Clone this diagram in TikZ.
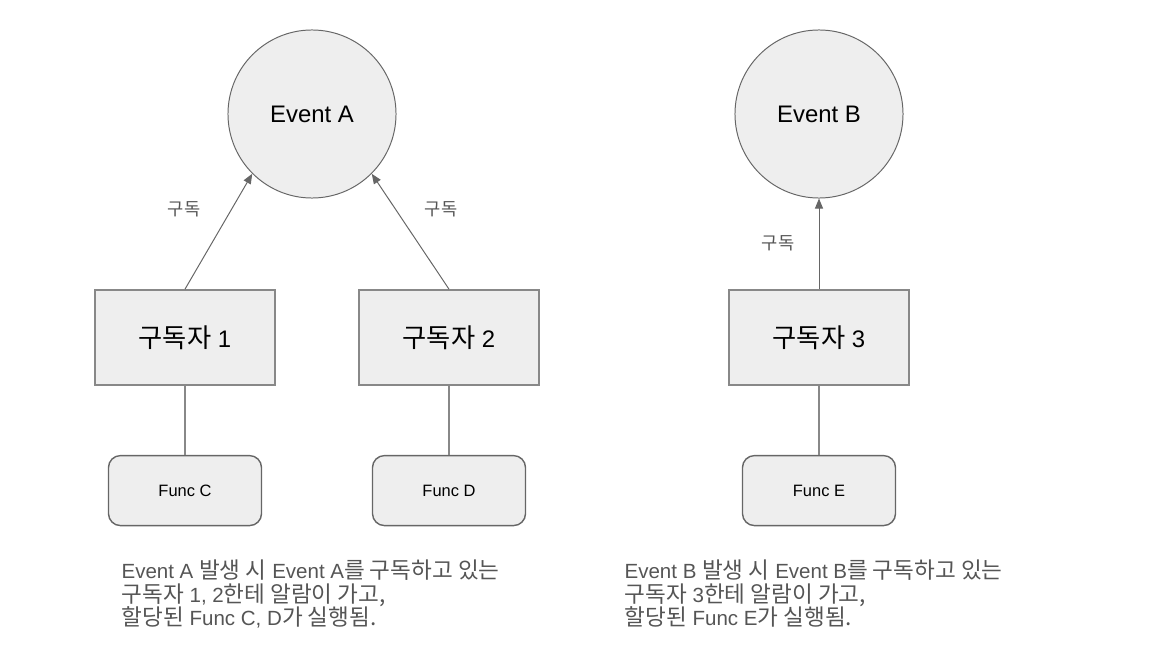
\documentclass[tikz,border=0pt]{standalone}
\usepackage{fontspec}
\setmainfont{Liberation Sans}
\newfontfamily\kr[Scale=1.1]{Noto Sans CJK KR}
\usetikzlibrary{arrows.meta}
\usetikzlibrary{shapes.geometric, positioning}
\definecolor{boxgray}{HTML}{EEEEEE}
\definecolor{linegray}{HTML}{666666}
\definecolor{edgegray}{HTML}{888888}
\definecolor{textgray}{HTML}{555555}

\begin{document}
\begin{tikzpicture}[x=0.025cm, y=-0.025cm, node distance=1.725cm, thick,
    event/.style={draw=linegray, line width=0.7pt, circle, fill=boxgray, minimum size=4.2cm, inner sep=0pt, font=\fontsize{17}{20}\selectfont},
    subscriber/.style={draw=edgegray, line width=1.2pt, fill=boxgray, minimum width=4.5cm, minimum height=2.375cm, font=\fontsize{17}{20}\selectfont},
    func/.style={draw=linegray, line width=1pt, rounded corners=0.3cm, fill=boxgray, minimum width=3.825cm, minimum height=1.75cm, font=\fontsize{11.7}{14}\selectfont},
    sublabel/.style={text=textgray, font=\kr\fontsize{11.4}{14}\selectfont},
    note/.style={text=textgray, align=left, anchor=west, inner sep=0pt, font=\fontsize{14.6}{16.7}\selectfont},
    subarrow/.style={-{Triangle[length=0.25cm, width=0.2cm]}, draw=linegray, line width=0.7pt}]
    \useasboundingbox (0,0) rectangle (1159,663);

    % events
    \node[event] (evA) at (312,114) {Event A};
    \node[event] (evB) at (819,114) {Event B};

    % subscribers
    \node[subscriber] (sub1) at (185,337.5) {{\kr 구독자} 1};
    \node[subscriber] (sub2) at (449,337.5) {{\kr 구독자} 2};
    \node[subscriber] (sub3) at (819,337.5) {{\kr 구독자} 3};

    \node[func, below=of sub1] (funcC) {Func C};
    \node[func, below=of sub2] (funcD) {Func D};
    \node[func, below=of sub3] (funcE) {Func E};

    \draw[subarrow] (sub1.north) -- (evA.south west);
    \draw[subarrow] (sub2.north) -- (evA.south east);
    \draw[subarrow] (sub3.north) -- (evB.south);

    \node[sublabel] (lab1) at (184,209) {구독};
    \node[sublabel] (lab2) at (441,209) {구독};
    \node[sublabel] (lab3) at (778,243) {구독};

    \draw[edgegray, line width=1pt] (sub1) -- (funcC);
    \draw[edgegray, line width=1pt] (sub2) -- (funcD);
    \draw[edgegray, line width=1pt] (sub3) -- (funcE);

    % descriptions
    \node[note] (noteA) at (121,594) {Event A {\kr 발생 시} Event A{\kr 를 구독하고 있는}\\{\kr 구독자} 1, 2{\kr 한테 알람이 가고,}\\{\kr 할당된} Func C, D{\kr 가 실행됨.}};
    \node[note] (noteB) at (624,594) {Event B {\kr 발생 시} Event B{\kr 를 구독하고 있는}\\{\kr 구독자} 3{\kr 한테 알람이 가고,}\\{\kr 할당된} Func E{\kr 가 실행됨.}};
\end{tikzpicture}
\end{document}
